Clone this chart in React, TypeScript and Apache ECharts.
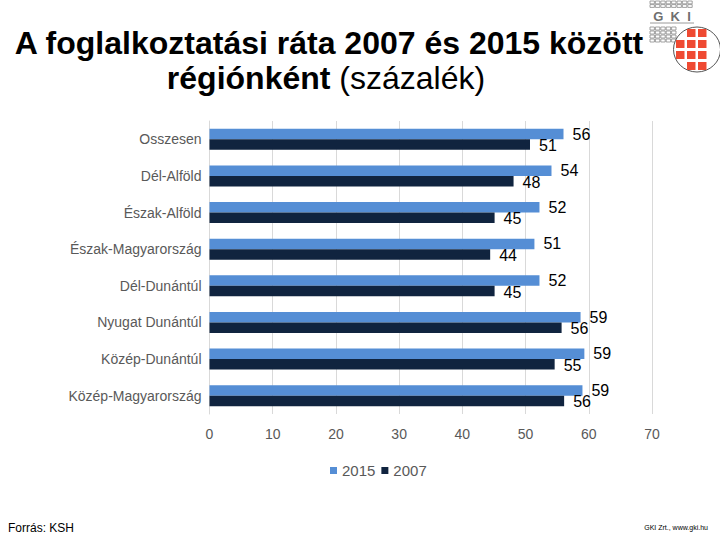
import React, { useEffect, useRef } from "react";
import * as echarts from "echarts";

const categories = [
  "Osszesen",
  "Dél-Alföld",
  "Észak-Alföld",
  "Észak-Magyarország",
  "Dél-Dunántúl",
  "Nyugat Dunántúl",
  "Közép-Dunántúl",
  "Közép-Magyarország",
];
const values2015 = [56.0, 54.1, 52.2, 51.4, 52.2, 58.7, 59.3, 59.0];
const values2007 = [50.7, 48.1, 45.1, 44.4, 45.1, 55.7, 54.6, 56.1];
const seriesNames = ["2015", "2007"];
const xTicks = { min: 0, max: 70, interval: 10 };

const FONT = "'Liberation Sans', Arial, sans-serif";
const BLUE = "#558ed5";
const NAVY = "#10243f";

function logoElements() {
  const els: any[] = [];
  for (let r = 0; r < 2; r++) {
    for (let c = 0; c < 8; c++) {
      els.push({
        type: "rect",
        shape: { x: 650 + c * 5.4, y: 1 + r * 3.6, width: 4.4, height: 2.8 },
        style: { fill: "#fff", stroke: "#8a8a8a", lineWidth: 0.8 },
        silent: true,
      });
    }
  }
  els.push({
    type: "text",
    style: {
      text: "G  K  I",
      x: 672,
      y: 16.5,
      fill: "#6f6f6f",
      font: `bold 13px ${FONT}`,
      textAlign: "center",
      textVerticalAlign: "middle",
    },
    silent: true,
  });
  els.push({
    type: "line",
    shape: { x1: 650, y1: 23, x2: 694, y2: 23 },
    style: { stroke: "#9a9a9a", lineWidth: 1 },
    silent: true,
  });
  for (let r = 0; r < 4; r++) {
    for (let c = 0; c < 5; c++) {
      els.push({
        type: "rect",
        shape: { x: 650 + c * 5.4, y: 27 + r * 4, width: 4.4, height: 3 },
        style: { fill: "#fff", stroke: "#8a8a8a", lineWidth: 0.8 },
        silent: true,
      });
    }
  }
  els.push({
    type: "ellipse",
    shape: { cx: 697, cy: 49.5, rx: 23.5, ry: 22.5 },
    style: { fill: "#fff", stroke: "#555", lineWidth: 1 },
    silent: true,
  });
  const sq = [
    [1, 0], [2, 0],
    [0, 1], [1, 1], [2, 1],
    [0, 2], [1, 2], [2, 2],
    [1, 3], [2, 3],
  ];
  sq.forEach(([c, r]) => {
    els.push({
      type: "rect",
      shape: { x: 676 + c * 11, y: 29 + r * 11, width: 8.5, height: 8 },
      style: { fill: "#ef4a32" },
      silent: true,
    });
  });
  return els;
}

export default function App() {
  const ref = useRef<HTMLDivElement>(null);
  useEffect(() => {
    if (!ref.current) return;
    const chart = echarts.init(ref.current, undefined, { renderer: "svg" });
    const labelFmt = (p: any) => String(Math.round(p.value));
    chart.setOption({
      animation: false,
      backgroundColor: "#ffffff",
      textStyle: { fontFamily: FONT },
      grid: { left: 209.5, right: 68, top: 121, bottom: 126, containLabel: false },
      legend: {
        data: seriesNames,
        left: 325,
        top: 458,
        icon: "rect",
        itemWidth: 7,
        itemHeight: 7,
        itemGap: 6,
        textStyle: { color: "#595959", fontSize: 15, fontFamily: FONT },
      },
      xAxis: {
        type: "value",
        min: xTicks.min,
        max: xTicks.max,
        interval: xTicks.interval,
        axisLine: { show: false },
        axisTick: { show: false },
        axisLabel: { color: "#595959", fontSize: 14, margin: 13, fontFamily: FONT },
        splitLine: { show: true, lineStyle: { color: "#d9d9d9", width: 1 } },
      },
      yAxis: {
        type: "category",
        data: categories,
        inverse: true,
        axisLine: { show: true, lineStyle: { color: "#d9d9d9" } },
        axisTick: { show: false },
        axisLabel: { color: "#595959", fontSize: 14, margin: 8, fontFamily: FONT },
      },
      series: [
        {
          name: seriesNames[0],
          type: "bar",
          data: values2015,
          itemStyle: { color: BLUE },
          barCategoryGap: "43%",
          barGap: "0%",
          label: {
            show: true,
            position: "right",
            distance: 9,
            color: "#000",
            fontSize: 16,
            fontFamily: FONT,
            formatter: labelFmt,
          },
        },
        {
          name: seriesNames[1],
          type: "bar",
          data: values2007,
          itemStyle: { color: NAVY },
          barCategoryGap: "43%",
          barGap: "0%",
          label: {
            show: true,
            position: "right",
            distance: 9,
            offset: [0, 1],
            color: "#000",
            fontSize: 16,
            fontFamily: FONT,
            formatter: labelFmt,
          },
        },
      ],
      graphic: [
        {
          type: "text",
          silent: true,
          style: {
            text: "A foglalkoztatási ráta 2007 és 2015 között",
            x: 329,
            y: 43,
            fill: "#000",
            font: `bold 32px ${FONT}`,
            textAlign: "center",
            textVerticalAlign: "middle",
          },
        },
        {
          type: "text",
          silent: true,
          style: {
            text: "{b|régiónként}{n| (százalék)}",
            x: 326,
            y: 78,
            textAlign: "center",
            textVerticalAlign: "middle",
            rich: {
              b: { fontFamily: FONT, fontWeight: "bold", fontSize: 32, fill: "#000", color: "#000" },
              n: { fontFamily: FONT, fontWeight: "normal", fontSize: 32, fill: "#000", color: "#000" },
            },
          },
        },
        {
          type: "text",
          silent: true,
          style: {
            text: "Forrás: KSH",
            x: 8,
            y: 528,
            fill: "#000",
            font: `12px ${FONT}`,
            textVerticalAlign: "middle",
          },
        },
        {
          type: "text",
          silent: true,
          style: {
            text: "GKI Zrt., www.gki.hu",
            x: 708,
            y: 527,
            fill: "#000",
            font: `7px ${FONT}`,
            textAlign: "right",
            textVerticalAlign: "middle",
          },
        },
        ...logoElements(),
      ],
    });
    return () => chart.dispose();
  }, []);
  return (
    <div
      ref={ref}
      style={{ position: "absolute", left: 0, top: 0, width: 720, height: 540 }}
    />
  );
}
